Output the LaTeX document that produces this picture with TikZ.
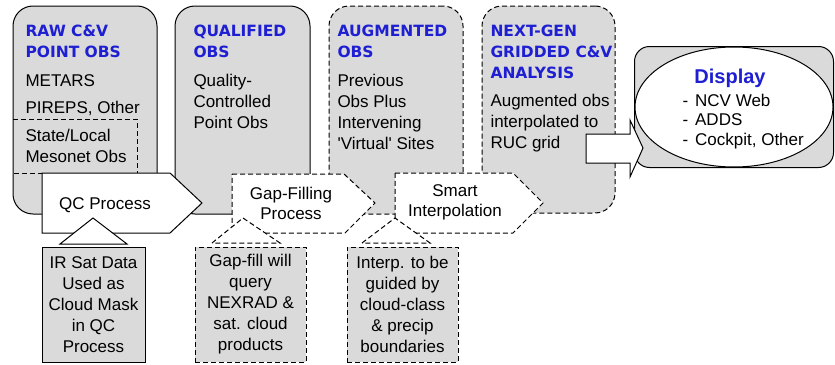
\documentclass[tikz,border=0pt]{standalone}
\usepackage{fontspec}
\setmainfont{Liberation Sans}
\newfontfamily\headfont{DejaVu Sans}
\usepackage{tikz}
\usepackage{xcolor}
\usetikzlibrary{positioning,shapes}
\definecolor{boxgray}{RGB}{218,218,218}
\definecolor{headblue}{RGB}{30,30,210}

\begin{document}
\begin{tikzpicture}[x=1pt,y=-1pt,line width=1pt]%[scale=2.5]
\useasboundingbox (0,0) rectangle (835,364);
\tikzstyle{stage}=[draw,fill=boxgray,rounded corners=20pt,inner sep=0pt]
\tikzstyle{dashbox}=[dash pattern=on 5pt off 3pt]
\tikzstyle{head}=[anchor=base west,align=left,inner sep=0pt,text=headblue,font=\headfont\bfseries\fontsize{15.5}{21}\selectfont]
\tikzstyle{body}=[anchor=base west,align=left,inner sep=0pt,font=\fontsize{17}{21}\selectfont]
\tikzstyle{note}=[draw,fill=boxgray,align=center,inner sep=0pt,font=\fontsize{17}{21}\selectfont]
\tikzstyle{proc}=[anchor=base,align=center,inner sep=0pt,font=\fontsize{17}{20}\selectfont]

% stages
\node[stage,minimum width=144pt,minimum height=208pt] (raw) at (85,110) {};
\node[stage,minimum width=135pt,minimum height=208pt] (qual) at (242.5,110) {};
\node[stage,dashbox,minimum width=134pt,minimum height=208pt] (aug) at (396,110) {};
\node[stage,dashbox,minimum width=133pt,minimum height=207pt] (grid) at (548.5,109.5) {};
\draw[dashbox] (13,119) -- (137,119) -- (137,173) -- (13,173);

% display
\node[stage,rounded corners=15pt,minimum width=199pt,minimum height=121pt] (disp) at (734,107) {};
\node[draw,fill=white,ellipse,minimum width=198pt,minimum height=120pt,inner sep=0pt] (dispell) at (734,107) {};

% processes
\draw[fill=white] (42,173) -- (170,173) -- (202,203) -- (170,233) -- (42,233) -- cycle;
\draw[fill=white,dashbox] (232,174) -- (344,174) -- (375,203) -- (345,233) -- (232,233) -- cycle;
\draw[fill=white,dashbox] (395,173) -- (513,173) -- (543,203) -- (513,233) -- (395,233) -- cycle;

\draw[fill=white] (60,244) -- (93,218) -- (127,244) -- cycle;
\node[note,minimum width=103pt,minimum height=115pt] (irsat) at (93.5,304.5) {IR Sat Data\\Used as\\Cloud Mask\\in QC\\Process};
\draw[fill=white,dashbox] (212,243) -- (243,218) -- (280,243) -- cycle;
\node[note,dashbox,minimum width=111pt,minimum height=115pt] (gapq) at (250.5,304.5) {Gap-fill will\\query\\NEXRAD \&\\sat. cloud\\products};
\draw[fill=white,dashbox] (362,243) -- (395,218) -- (430,243) -- cycle;
\node[note,dashbox,minimum width=111pt,minimum height=115pt] (interp) at (402.5,304.5) {Interp. to be\\guided by\\cloud-class\\\& precip\\boundaries};

% texts (anchored at the last line)
\node[head] (rawh) at (25,57.5) {RAW C\&V\\POINT OBS};
\node[body] (rawb) at (25,113) {METARS\\[6pt]PIREPS, Other};
\node[body] (meso) at (25,162) {State/Local\\Mesonet Obs};
\node[head] (qualh) at (193,57.5) {QUALIFIED\\OBS};
\node[body] (qualb) at (193,128) {Quality-\\Controlled\\Point Obs};
\node[head] (augh) at (337,57.5) {AUGMENTED\\OBS};
\node[body] (augb) at (337,149) {Previous\\Obs Plus\\Intervening\\\textquotesingle Virtual\textquotesingle{} Sites};
\node[head] (gridh) at (490,78.5) {NEXT-GEN\\GRIDDED C\&V\\ANALYSIS};
\node[body] (gridb) at (490,148) {Augmented obs\\interpolated to\\RUC grid};

\node[proc] (qc) at (105,209) {QC Process};
\node[proc] (gapfill) at (291,219) {Gap-Filling\\Process};
\node[proc] (smart) at (455,216) {Smart\\Interpolation};

\node[anchor=base,inner sep=0pt,text=headblue,font=\bfseries\fontsize{20}{24}\selectfont] (disph) at (730,83) {Display};
\node[body,font=\fontsize{17}{19.5}\selectfont] (dispb) at (682,145) {-\hspace{7pt}NCV Web\\-\hspace{7pt}ADDS\\-\hspace{7pt}Cockpit, Other};

% to display
\draw[fill=white] (586,134) -- (630,134) -- (630,120) -- (643,148) -- (630,177) -- (630,163) -- (586,163) -- cycle;
\end{tikzpicture}
\end{document}
